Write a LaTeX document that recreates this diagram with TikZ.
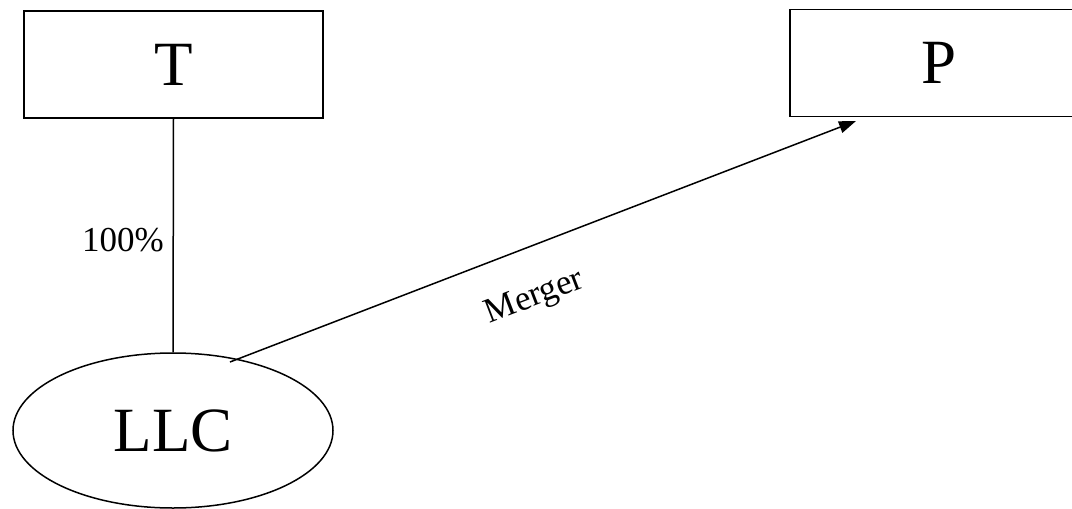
\documentclass[tikz,border=0pt]{standalone}
\usepackage{fontspec}
\setmainfont{Liberation Serif}
\usetikzlibrary{shapes.geometric,arrows.meta}
\tikzset{
  entity/.style={draw, line width=1.5pt, minimum width=299pt, minimum height=107pt, inner sep=0pt, font=\fontsize{63}{70}\selectfont},
  llc/.style={draw, ellipse, line width=1.5pt, minimum width=320pt, minimum height=155pt, inner sep=0pt, font=\fontsize{63}{70}\selectfont},
  conn/.style={line width=1.5pt},
  lbl/.style={inner sep=0pt, font=\fontsize{35}{40}\selectfont}
}
\begin{document}
\begin{tikzpicture}[x=1pt,y=-1pt]
\useasboundingbox (0,0) rectangle (1072,509);
\clip (0,0) rectangle (1072,509);
\node[entity] (T) at (173.5,64.5) {T};
\node[entity] (P) at (939.5,63) {P};
\node[llc] (L) at (173,430.5) {LLC};
\coordinate (ms) at (230,362);
\coordinate (me) at (856,121);
\draw[conn] (T.south) -- (L.north);
\draw[conn, -{Triangle[length=17pt,width=12pt]}] (ms) -- (me);
\node[lbl] (pct) at (123,240) {100\%};
\node[lbl, rotate=21] (mg) at (535,298) {Merger};
\end{tikzpicture}
\end{document}
